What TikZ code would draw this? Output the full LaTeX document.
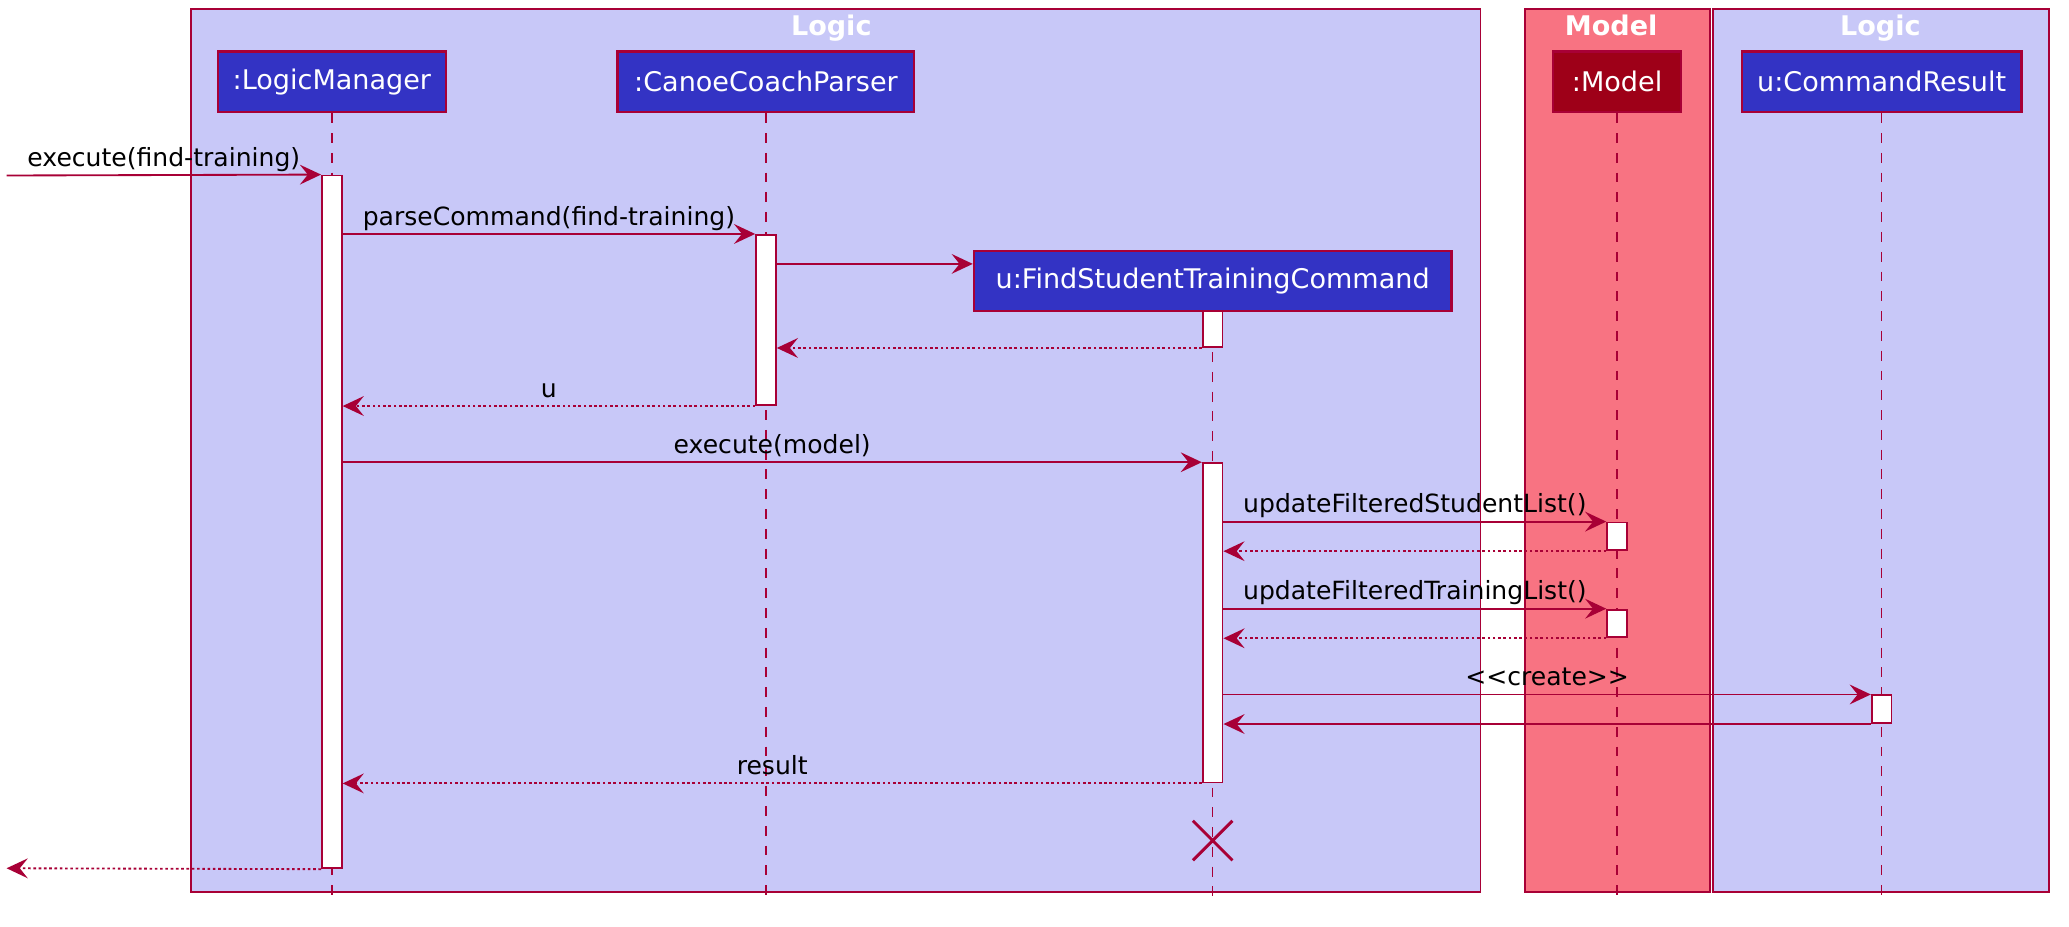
\documentclass[tikz,border=0pt]{standalone}
\usepackage{fontspec}
\setmainfont{DejaVu Sans}
\usepackage{tikz}
\usetikzlibrary{arrows.meta,positioning,calc}
\definecolor{umlred}{RGB}{168,0,54}
\definecolor{umlblue}{RGB}{51,51,196}
\definecolor{logicbg}{RGB}{200,200,248}
\definecolor{modelbg}{RGB}{248,115,130}
\definecolor{modelbox}{RGB}{158,0,24}
\tikzset{%
  participant/.style={
    draw=umlred,
    line width=1.6pt,
    fill=umlblue,
    text=white,
    minimum height=46pt,
    font=\fontsize{20.5}{24}\selectfont
  },
  activation/.style={
    draw=umlred,
    line width=1.4pt,
    fill=white,
    minimum width=15pt,
    inner sep=0pt
  },
  frame box/.style={draw=umlred, line width=1.4pt, fill=logicbg},
  frame title/.style={text=white, anchor=base, font=\bfseries\fontsize{20.5}{24}\selectfont},
  lifeline/.style={umlred, line width=1.2pt, dash pattern=on 7.5pt off 7.5pt},
  call/.style={umlred, line width=1.4pt, -{Stealth[length=16pt,width=15pt,inset=6pt]}},
  reply/.style={call, dash pattern=on 2pt off 2pt},
  msg label/.style={text=black, inner sep=1.5pt, text height=14.5pt, text depth=4.5pt,
    font=\fontsize{19}{22}\selectfont},
}

\begin{document}
\begin{tikzpicture}[x=1pt, y=-1pt]
\useasboundingbox (0,0) rectangle (1568,702);

% package frames
\draw [frame box] (145,7) rectangle (1122,676);
\draw [frame box, fill=modelbg] (1156,7) rectangle (1296,676);
\draw [frame box] (1298,7) rectangle (1553,676);
\node [frame title] (title-logic) at (630,27) {Logic};
\node [frame title] (title-model) at (1221,27) {Model};
\node [frame title] (title-result) at (1425,27) {Logic};

% participants
\foreach \n/\l/\x/\w in {lm/{:LogicManager}/251.5/173, parser/{:CanoeCoachParser}/580.5/225, result/{u:CommandResult}/1426/212}
  \node [participant, minimum width=\w pt] (\n) at (\x,62) {\l};
\node [participant, fill=modelbox, minimum width=97pt] (model) at (1225.5,62) {:Model};
\node [participant, minimum width=362pt] (cmd) at (919,213) {u:FindStudentTrainingCommand};

% lifelines
\foreach \n in {lm,parser,cmd,model,result}
  \draw [lifeline] (\n.south) -- (\n.south |- 0,685);

% activations
\node [activation, minimum height=525pt] (lmAct) at (251.5,395.5) {};
\node [activation, minimum height=129pt] (parserAct) at (580.5,242.5) {};
\node [activation, minimum height=27pt] (cmdAct1) at (919,249.5) {};
\node [activation, minimum height=242pt] (cmdAct2) at (919,472) {};
\node [activation, minimum height=21pt] (modelAct1) at (1225.5,406.5) {};
\node [activation, minimum height=21pt] (modelAct2) at (1225.5,472.5) {};
\node [activation, minimum height=21pt] (resultAct) at (1426,537.5) {};

\coordinate (entry) at (5,133);
\coordinate (exit) at (5,658);

% messages
\draw [call] (entry) -- (lmAct.north west)
  node [msg label, midway, above] {execute(find-training)};
\draw [call] (lmAct.east |- parserAct.north) -- (parserAct.north west)
  node [msg label, midway, above] {parseCommand(find-training)};
\draw [call] (parserAct.east |- 0,200) -- (cmd.west |- 0,200);
\draw [reply] (cmdAct1.south west) -- (parserAct.east |- cmdAct1.south);
\draw [reply] (parserAct.south west) -- (lmAct.east |- parserAct.south)
  node [msg label, midway, above] {u};
\draw [call] (lmAct.east |- cmdAct2.north) -- (cmdAct2.north west)
  node [msg label, midway, above] {execute(model)};
\draw [call] (cmdAct2.east |- modelAct1.north) -- (modelAct1.north west)
  node [msg label, midway, above] {updateFilteredStudentList()};
\draw [reply] (modelAct1.south west) -- (cmdAct2.east |- modelAct1.south);
\draw [call] (cmdAct2.east |- modelAct2.north) -- (modelAct2.north west)
  node [msg label, midway, above] {updateFilteredTrainingList()};
\draw [reply] (modelAct2.south west) -- (cmdAct2.east |- modelAct2.south);
\draw [call] (cmdAct2.east |- resultAct.north) -- (resultAct.north west)
  node [msg label, midway, above] {<{}<create>{}>};
\draw [call] (resultAct.south west) -- (cmdAct2.east |- resultAct.south);
\draw [reply] (cmdAct2.south west) -- (lmAct.east |- cmdAct2.south)
  node [msg label, midway, above] {result};
\draw [reply] (lmAct.south west) -- (exit);

% destroy
\coordinate (kill) at (919,637);
\draw [umlred, line width=2.2pt] ($(kill)+(-15,-15)$) -- ($(kill)+(15,15)$)
  ($(kill)+(-15,15)$) -- ($(kill)+(15,-15)$);

\end{tikzpicture}
\end{document}
